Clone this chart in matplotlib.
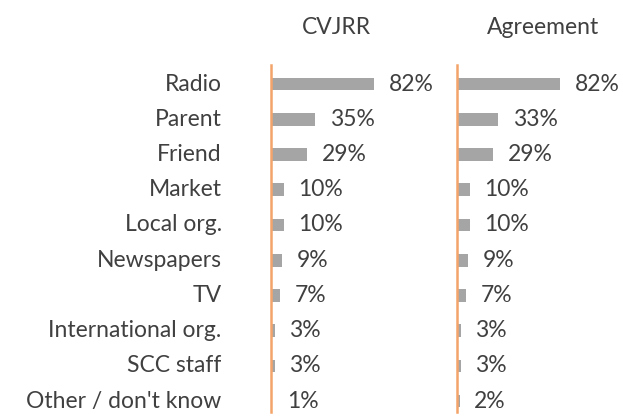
import matplotlib.pyplot as plt

categories = ["Radio", "Parent", "Friend", "Market", "Local org.", "Newspapers",
              "TV", "International org.", "SCC staff", "Other / don't know"]
cvjrr = [82, 35, 29, 10, 10, 9, 7, 3, 3, 1]
agreement = [82, 33, 29, 10, 10, 9, 7, 3, 3, 2]
panel_titles = ["CVJRR", "Agreement"]

TEXT = "#404040"
BAR = "#A5A5A5"
AXIS = "#F4A46A"
FS = 16.5

fig = plt.figure(figsize=(6.23, 4.17), dpi=100)
plt.rcParams["font.family"] = ["Lato", "DejaVu Sans"]

W, H = 623, 417
panels = [(271, cvjrr, 336), (457, agreement, 543)]
for i, (left_px, vals, title_x) in enumerate(panels):
    ax = fig.add_axes([left_px / W, 1 - 412 / H, 125.6 / W, 347 / H])
    y = range(len(categories))
    ax.barh(y, vals, height=0.36, color=BAR)
    ax.set_xlim(0, 100)
    ax.set_ylim(9.31, -0.54)
    for yi, v in zip(y, vals):
        ax.annotate(f"{v}%", (v, yi), xytext=(10.5, 0), textcoords="offset points",
                    va="center", ha="left", fontsize=FS, color=TEXT)
    ax.axvline(0, color=AXIS, lw=1.8, clip_on=False, zorder=5)
    for s in ax.spines.values():
        s.set_visible(False)
    ax.set_xticks([])
    ax.set_yticks([])
    fig.text(title_x / W, 1 - 27 / H, panel_titles[i], fontsize=FS, color=TEXT,
             ha="center", va="center")
    if i == 0:
        for yi, c in zip(y, categories):
            ax.annotate(c, (0, yi), xytext=(-35.5, 0), textcoords="offset points",
                        va="center", ha="right", fontsize=FS, color=TEXT)

fig.savefig("out.png", dpi=100)
